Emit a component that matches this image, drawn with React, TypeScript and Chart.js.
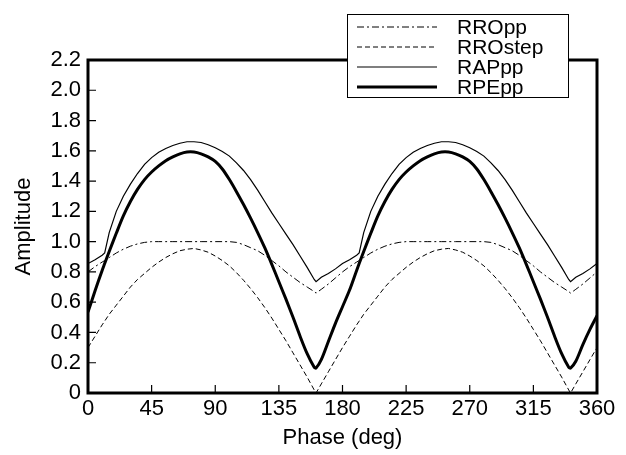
import React, { useEffect, useRef } from "react";
import { Chart, registerables } from "chart.js";

Chart.register(...registerables);

const phase = [
  0, 5, 10, 11.8, 15, 20, 25, 30, 35, 40, 45, 50, 55, 60, 65, 70, 75, 80, 85, 90,
  95, 100, 105, 110, 115, 120, 125, 130, 135, 140, 145, 150, 155, 160, 161.3, 165, 170, 175, 180,
  185, 190, 191.8, 195, 200, 205, 210, 215, 220, 225, 230, 235, 240, 245, 250, 255, 260, 265, 270,
  275, 280, 285, 290, 295, 300, 305, 310, 315, 320, 325, 330, 335, 340, 341.3, 345, 350, 355, 360,
];

const rroPP = [
  0.8, 0.835, 0.865, 0.875, 0.895, 0.925, 0.95, 0.97, 0.985, 0.995, 1.0, 1.0, 1.0, 1.0, 1.0, 1.0, 1.0, 1.0, 1.0, 1.0,
  1.0, 1.0, 0.995, 0.98, 0.96, 0.94, 0.91, 0.875, 0.84, 0.8, 0.765, 0.73, 0.7, 0.67, 0.66, 0.685, 0.72, 0.76, 0.8,
  0.835, 0.865, 0.875, 0.895, 0.925, 0.95, 0.97, 0.985, 0.995, 1.0, 1.0, 1.0, 1.0, 1.0, 1.0, 1.0, 1.0, 1.0, 1.0,
  1.0, 1.0, 0.995, 0.98, 0.96, 0.94, 0.91, 0.875, 0.84, 0.8, 0.765, 0.73, 0.7, 0.67, 0.66, 0.685, 0.72, 0.76, 0.8,
];

const rroStep = [
  0.3, 0.375, 0.45, 0.475, 0.52, 0.58, 0.64, 0.7, 0.75, 0.79, 0.83, 0.865, 0.895, 0.92, 0.94, 0.95, 0.955, 0.945, 0.93, 0.905,
  0.875, 0.84, 0.795, 0.745, 0.69, 0.63, 0.565, 0.495, 0.42, 0.345, 0.265, 0.185, 0.105, 0.02, 0.0, 0.06, 0.14, 0.22, 0.3,
  0.375, 0.45, 0.475, 0.52, 0.58, 0.64, 0.7, 0.75, 0.79, 0.83, 0.865, 0.895, 0.92, 0.94, 0.95, 0.955, 0.945, 0.93, 0.905,
  0.875, 0.84, 0.795, 0.745, 0.69, 0.63, 0.565, 0.495, 0.42, 0.345, 0.265, 0.185, 0.105, 0.02, 0.0, 0.06, 0.14, 0.22, 0.3,
];

const rapPP = [
  0.855, 0.88, 0.91, 0.925, 1.06, 1.2, 1.3, 1.38, 1.45, 1.51, 1.555, 1.59, 1.615, 1.635, 1.65, 1.66, 1.66, 1.655, 1.64, 1.62,
  1.595, 1.565, 1.52, 1.47, 1.41, 1.34, 1.265, 1.19, 1.12, 1.05, 0.98, 0.905, 0.83, 0.75, 0.735, 0.765, 0.79, 0.82, 0.855,
  0.88, 0.91, 0.925, 1.06, 1.2, 1.3, 1.38, 1.45, 1.51, 1.555, 1.59, 1.615, 1.635, 1.65, 1.66, 1.66, 1.655, 1.64, 1.62,
  1.595, 1.565, 1.52, 1.47, 1.41, 1.34, 1.265, 1.19, 1.12, 1.05, 0.98, 0.905, 0.83, 0.75, 0.735, 0.765, 0.79, 0.82, 0.855,
];

const rpePP = [
  0.535, 0.675, 0.81, 0.855, 0.935, 1.055, 1.17, 1.265, 1.345, 1.41, 1.46, 1.5, 1.535, 1.56, 1.58, 1.592, 1.592, 1.58, 1.56, 1.53,
  1.48, 1.41, 1.33, 1.245, 1.155, 1.06, 0.96, 0.85, 0.735, 0.62, 0.5, 0.375, 0.26, 0.17, 0.165, 0.22, 0.34, 0.46, 0.57,
  0.68, 0.81, 0.855, 0.935, 1.055, 1.17, 1.265, 1.345, 1.41, 1.46, 1.5, 1.535, 1.56, 1.58, 1.592, 1.592, 1.58, 1.56, 1.53,
  1.48, 1.41, 1.33, 1.245, 1.155, 1.06, 0.96, 0.85, 0.735, 0.62, 0.5, 0.375, 0.26, 0.17, 0.165, 0.21, 0.32, 0.42, 0.51,
];

const seriesNames = ["RROpp", "RROstep", "RAPpp", "RPEpp"];
const xTicks = [0, 45, 90, 135, 180, 225, 270, 315, 360];

const FONT = "'Liberation Sans', Arial, Helvetica, sans-serif";

const framePlugin = {
  id: "frame",
  afterDatasetsDraw(chart: any) {
    const { ctx, chartArea } = chart;
    const { left, right, top, bottom } = chartArea;
    const xs = chart.scales.x;
    const ys = chart.scales.y;
    ctx.save();
    ctx.strokeStyle = "#000";
    ctx.lineWidth = 1.2;
    ctx.beginPath();
    xs.ticks.forEach((t: any) => {
      const px = xs.getPixelForValue(t.value);
      if (px > left + 2 && px < right - 2) {
        ctx.moveTo(px, bottom);
        ctx.lineTo(px, bottom - 8);
      }
    });
    ys.ticks.forEach((t: any) => {
      const py = ys.getPixelForValue(t.value);
      if (py > top + 2 && py < bottom - 2) {
        ctx.moveTo(left, py);
        ctx.lineTo(left + 8, py);
      }
    });
    ctx.stroke();
    ctx.lineWidth = 3;
    ctx.strokeRect(left, top, right - left, bottom - top);
    ctx.restore();
  },
  afterDraw(chart: any) {
    const { ctx } = chart;
    const bx = 347, by = 14, bw = 221, bh = 83;
    ctx.save();
    ctx.fillStyle = "#fff";
    ctx.fillRect(bx, by, bw, bh);
    ctx.strokeStyle = "#000";
    ctx.lineWidth = 1;
    ctx.strokeRect(bx + 0.5, by + 0.5, bw, bh);
    chart.data.datasets.forEach((ds: any, i: number) => {
      const cy = by + 13 + i * 20;
      ctx.beginPath();
      ctx.setLineDash(ds.borderDash || []);
      ctx.lineWidth = ds.borderWidth;
      ctx.moveTo(bx + 10, cy);
      ctx.lineTo(bx + 90, cy);
      ctx.stroke();
      ctx.setLineDash([]);
      ctx.fillStyle = "#000";
      ctx.font = `21px ${FONT}`;
      ctx.textAlign = "left";
      ctx.textBaseline = "middle";
      ctx.fillText(ds.label, bx + 110, cy + 1);
    });
    ctx.restore();
  },
};

export default function App() {
  const ref = useRef<HTMLCanvasElement>(null);
  useEffect(() => {
    document.body.style.margin = "0";
    const mk = (vals: number[]) => phase.map((p, i) => ({ x: p, y: vals[i] }));
    const chart = new Chart(ref.current!, {
      type: "line",
      data: {
        datasets: [
          { label: seriesNames[0], data: mk(rroPP), borderColor: "#000", borderWidth: 1, borderDash: [7, 3, 2, 3], pointRadius: 0, tension: 0 },
          { label: seriesNames[1], data: mk(rroStep), borderColor: "#000", borderWidth: 1, borderDash: [5, 3], pointRadius: 0, tension: 0 },
          { label: seriesNames[2], data: mk(rapPP), borderColor: "#000", borderWidth: 1.2, pointRadius: 0, tension: 0 },
          { label: seriesNames[3], data: mk(rpePP), borderColor: "#000", borderWidth: 3, pointRadius: 0, tension: 0.3 },
        ],
      },
      options: {
        animation: false,
        responsive: false,
        layout: { padding: { top: 60, right: 29, left: 0, bottom: 0 } },
        plugins: { legend: { display: false }, tooltip: { enabled: false } },
        scales: {
          x: {
            type: "linear",
            min: 0,
            max: 360,
            afterBuildTicks: (s: any) => { s.ticks = xTicks.map((v) => ({ value: v })); },
            afterFit: (s: any) => { s.height = 62; },
            grid: { display: false, drawTicks: false },
            border: { display: false },
            ticks: { color: "#000", padding: 3, font: { family: FONT, size: 22 }, maxRotation: 0, autoSkip: false },
            title: { display: true, text: "Phase (deg)", color: "#000", font: { family: FONT, size: 22 }, padding: { top: 0, bottom: 4 } },
          },
          y: {
            min: 0,
            max: 2.2,
            ticks: {
              stepSize: 0.2,
              color: "#000",
              padding: 7,
              font: { family: FONT, size: 22 },
              callback: (v: any) => (Math.abs(v) < 1e-9 ? "0" : Number(v).toFixed(1)),
            },
            afterFit: (s: any) => { s.width = 88; },
            grid: { display: false, drawTicks: false },
            border: { display: false },
            title: { display: true, text: "Amplitude", color: "#000", font: { family: FONT, size: 22 }, padding: { top: 11, bottom: 0 } },
          },
        },
      },
      plugins: [framePlugin],
    });
    return () => chart.destroy();
  }, []);
  return (
    <div style={{ width: 626, height: 455, background: "#fff" }}>
      <canvas ref={ref} width={626} height={455} style={{ display: "block" }} />
    </div>
  );
}
